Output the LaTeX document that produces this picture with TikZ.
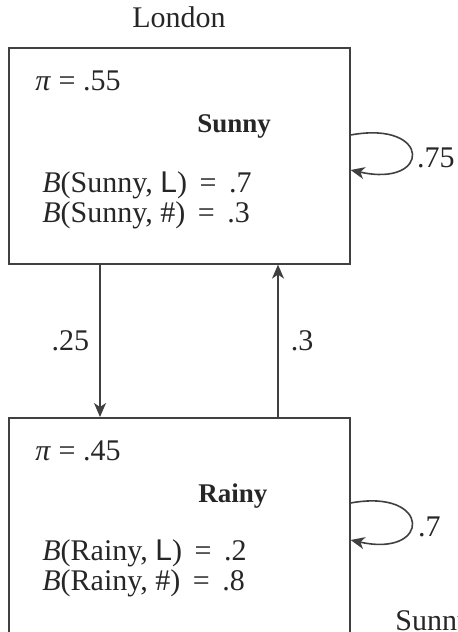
\documentclass[tikz,border=0pt]{standalone}
\usepackage{fontspec}
\setmainfont{Liberation Serif}
\setsansfont{Liberation Sans}
\usetikzlibrary{arrows.meta}
\tikzset{
  state/.style={draw=black!75,line width=0.8pt,minimum width=170.5pt,minimum height=108pt,inner sep=0,anchor=north west},
  txt/.style={inner sep=0,anchor=base west,text=black!85,font=\fontsize{15}{18}\selectfont},
  lab/.style={inner sep=0,text=black!85,font=\fontsize{15}{18}\selectfont},
  arr/.style={draw=black!75,line width=0.8pt,-{Stealth[length=7pt,width=6pt,inset=2pt]}}
}
\begin{document}
\begin{tikzpicture}[x=0.5pt,y=-0.5pt]
\useasboundingbox (0,0) rectangle (458,632);
\clip (0,0) rectangle (458,632);
\node[txt] (city) at (132,27) {London};
% the two states
\node[state] (sunny) at (8,47) {};
\node[state,minimum height=115pt] (rainy) at (8,417) {};
\node[txt] at (35,90) {\textit{π} = .55};
\node[txt,font=\bfseries\fontsize{13.5}{16}\selectfont] at (197,132) {Sunny};
\node[txt] at (42,192) {\textit{B}(Sunny, \textsf{L})\, =\, .7};
\node[txt] at (42,222) {\textit{B}(Sunny, \#)\, =\, .3};
\node[txt] at (35,460) {\textit{π} = .45};
\node[txt,font=\bfseries\fontsize{13.5}{16}\selectfont] at (198,502) {Rainy};
\node[txt] at (42,560) {\textit{B}(Rainy, \textsf{L})\, =\, .2};
\node[txt] at (42,590) {\textit{B}(Rainy, \#)\, =\, .8};
\node[txt] at (395,630) {Sunny};
% transitions
\draw[arr] ([xshift=46pt]sunny.south west) -- ([xshift=46pt]rainy.north west)
  node[lab,pos=0.5,left=5pt]{.25};
\draw[arr] ([xshift=135pt]rainy.north west) -- ([xshift=135pt]sunny.south west)
  node[lab,pos=0.5,right=6pt]{.3};
\draw[arr] ([yshift=-44pt]sunny.north east) .. controls +(81,-15) and +(81,18) .. ([yshift=-61.5pt]sunny.north east)
  node[lab,pos=0.5,right=2.5pt,yshift=-2pt]{.75};
\draw[arr] ([yshift=-43pt]rainy.north east) .. controls +(81,-15) and +(81,18) .. ([yshift=-61.5pt]rainy.north east)
  node[lab,pos=0.5,right=3pt,yshift=-2pt]{.7};
\end{tikzpicture}
\end{document}
